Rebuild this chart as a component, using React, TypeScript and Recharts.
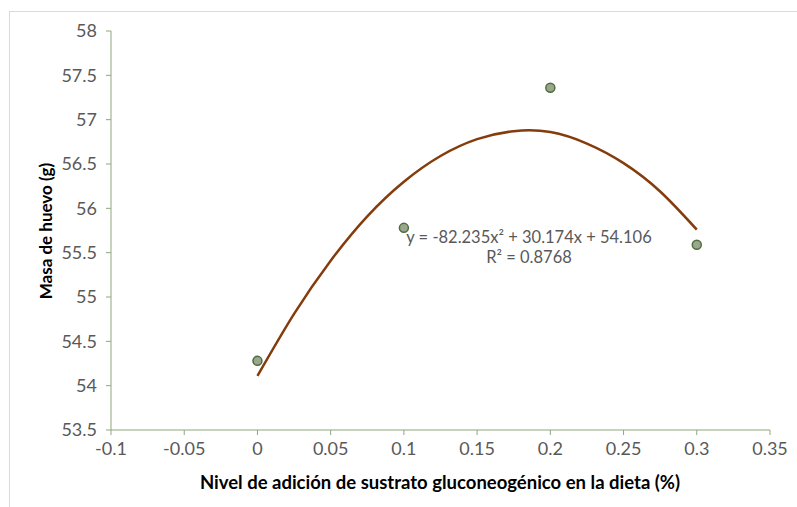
import { ComposedChart, Scatter, Line, XAxis, YAxis } from 'recharts';

// niveles de adición (%) y masa de huevo observada (g)
const niveles = [0, 0.1, 0.2, 0.3];
const masa = [54.28, 55.78, 57.36, 55.59];

// línea de tendencia polinómica
const tendenciaX = [0, 0.025, 0.05, 0.075, 0.1, 0.125, 0.15, 0.175, 0.2, 0.225, 0.25, 0.275, 0.3];
const tendenciaY = [54.11, 54.81, 55.41, 55.91, 56.30, 56.59, 56.78, 56.87, 56.86, 56.73, 56.51, 56.19, 55.76];

const xTicks = [-0.1, -0.05, 0, 0.05, 0.1, 0.15, 0.2, 0.25, 0.3, 0.35];
const yTicks = [53.5, 54, 54.5, 55, 55.5, 56, 56.5, 57, 57.5, 58];

const puntos = niveles.map((x, i) => ({ x, y: masa[i] }));
const tendencia = tendenciaX.map((x, i) => ({ x, y: tendenciaY[i] }));

const axisColor = '#8ea77f';
const tickStyle = { fill: '#595959', fontSize: 18, fontFamily: 'Lato, sans-serif' };

export default function App() {
  return (
    <div
      style={{
        position: 'absolute',
        left: 0,
        top: 0,
        width: 797,
        height: 507,
        background: '#fff',
        overflow: 'hidden',
        fontFamily: 'Lato, sans-serif',
      }}
    >
      <div
        style={{
          position: 'absolute',
          left: 9,
          top: 11,
          width: 800,
          height: 510,
          borderTop: '1.5px solid #d9d9d9',
          borderLeft: '1.5px solid #d9d9d9',
        }}
      />
      <ComposedChart
        width={797}
        height={507}
        margin={{ top: 31, right: 27, bottom: 47, left: 51 }}
        style={{ position: 'absolute', left: 0, top: 0 }}
      >
        <XAxis
          type="number"
          dataKey="x"
          domain={[-0.1, 0.35]}
          ticks={xTicks}
          tickFormatter={(v) => String(Number(v.toFixed(2)))}
          stroke={axisColor}
          tick={tickStyle}
          tickSize={5}
          tickMargin={7}
          height={30}
          allowDataOverflow
        />
        <YAxis
          type="number"
          dataKey="y"
          domain={[53.5, 58]}
          ticks={yTicks}
          stroke={axisColor}
          tick={tickStyle}
          tickSize={5}
          tickMargin={9}
          width={60}
          allowDataOverflow
        />
        <Line
          data={tendencia}
          dataKey="y"
          type="natural"
          stroke="#843c0c"
          strokeWidth={2.5}
          dot={false}
          isAnimationActive={false}
        />
        <Scatter
          data={puntos}
          dataKey="y"
          fill="#9aa592"
          stroke="#4f6e3a"
          strokeWidth={1.5}
          shape={(p: any) => (
            <circle cx={p.cx} cy={p.cy} r={4.5} fill="#9aa592" stroke="#4f6e3a" strokeWidth={1.5} />
          )}
          isAnimationActive={false}
        />
      </ComposedChart>
      <div
        style={{
          position: 'absolute',
          left: 45,
          top: 231,
          transform: 'translate(-50%, -50%) rotate(-90deg)',
          whiteSpace: 'nowrap',
          fontWeight: 700,
          fontSize: 17,
          color: '#000',
        }}
      >
        Masa de huevo (g)
      </div>
      <div
        style={{
          position: 'absolute',
          left: 440,
          top: 482,
          transform: 'translate(-50%, -50%)',
          whiteSpace: 'nowrap',
          fontWeight: 700,
          fontSize: 18.5,
          color: '#000',
        }}
      >
        Nivel de adición de sustrato gluconeogénico en la dieta (%)
      </div>
      <div
        style={{
          position: 'absolute',
          left: 529,
          top: 247,
          transform: 'translate(-50%, -50%)',
          whiteSpace: 'nowrap',
          fontSize: 16.5,
          color: '#595959',
          textAlign: 'center',
          lineHeight: '20px',
        }}
      >
        y = -82.235x² + 30.174x + 54.106
        <br />
        R² = 0.8768
      </div>
    </div>
  );
}
